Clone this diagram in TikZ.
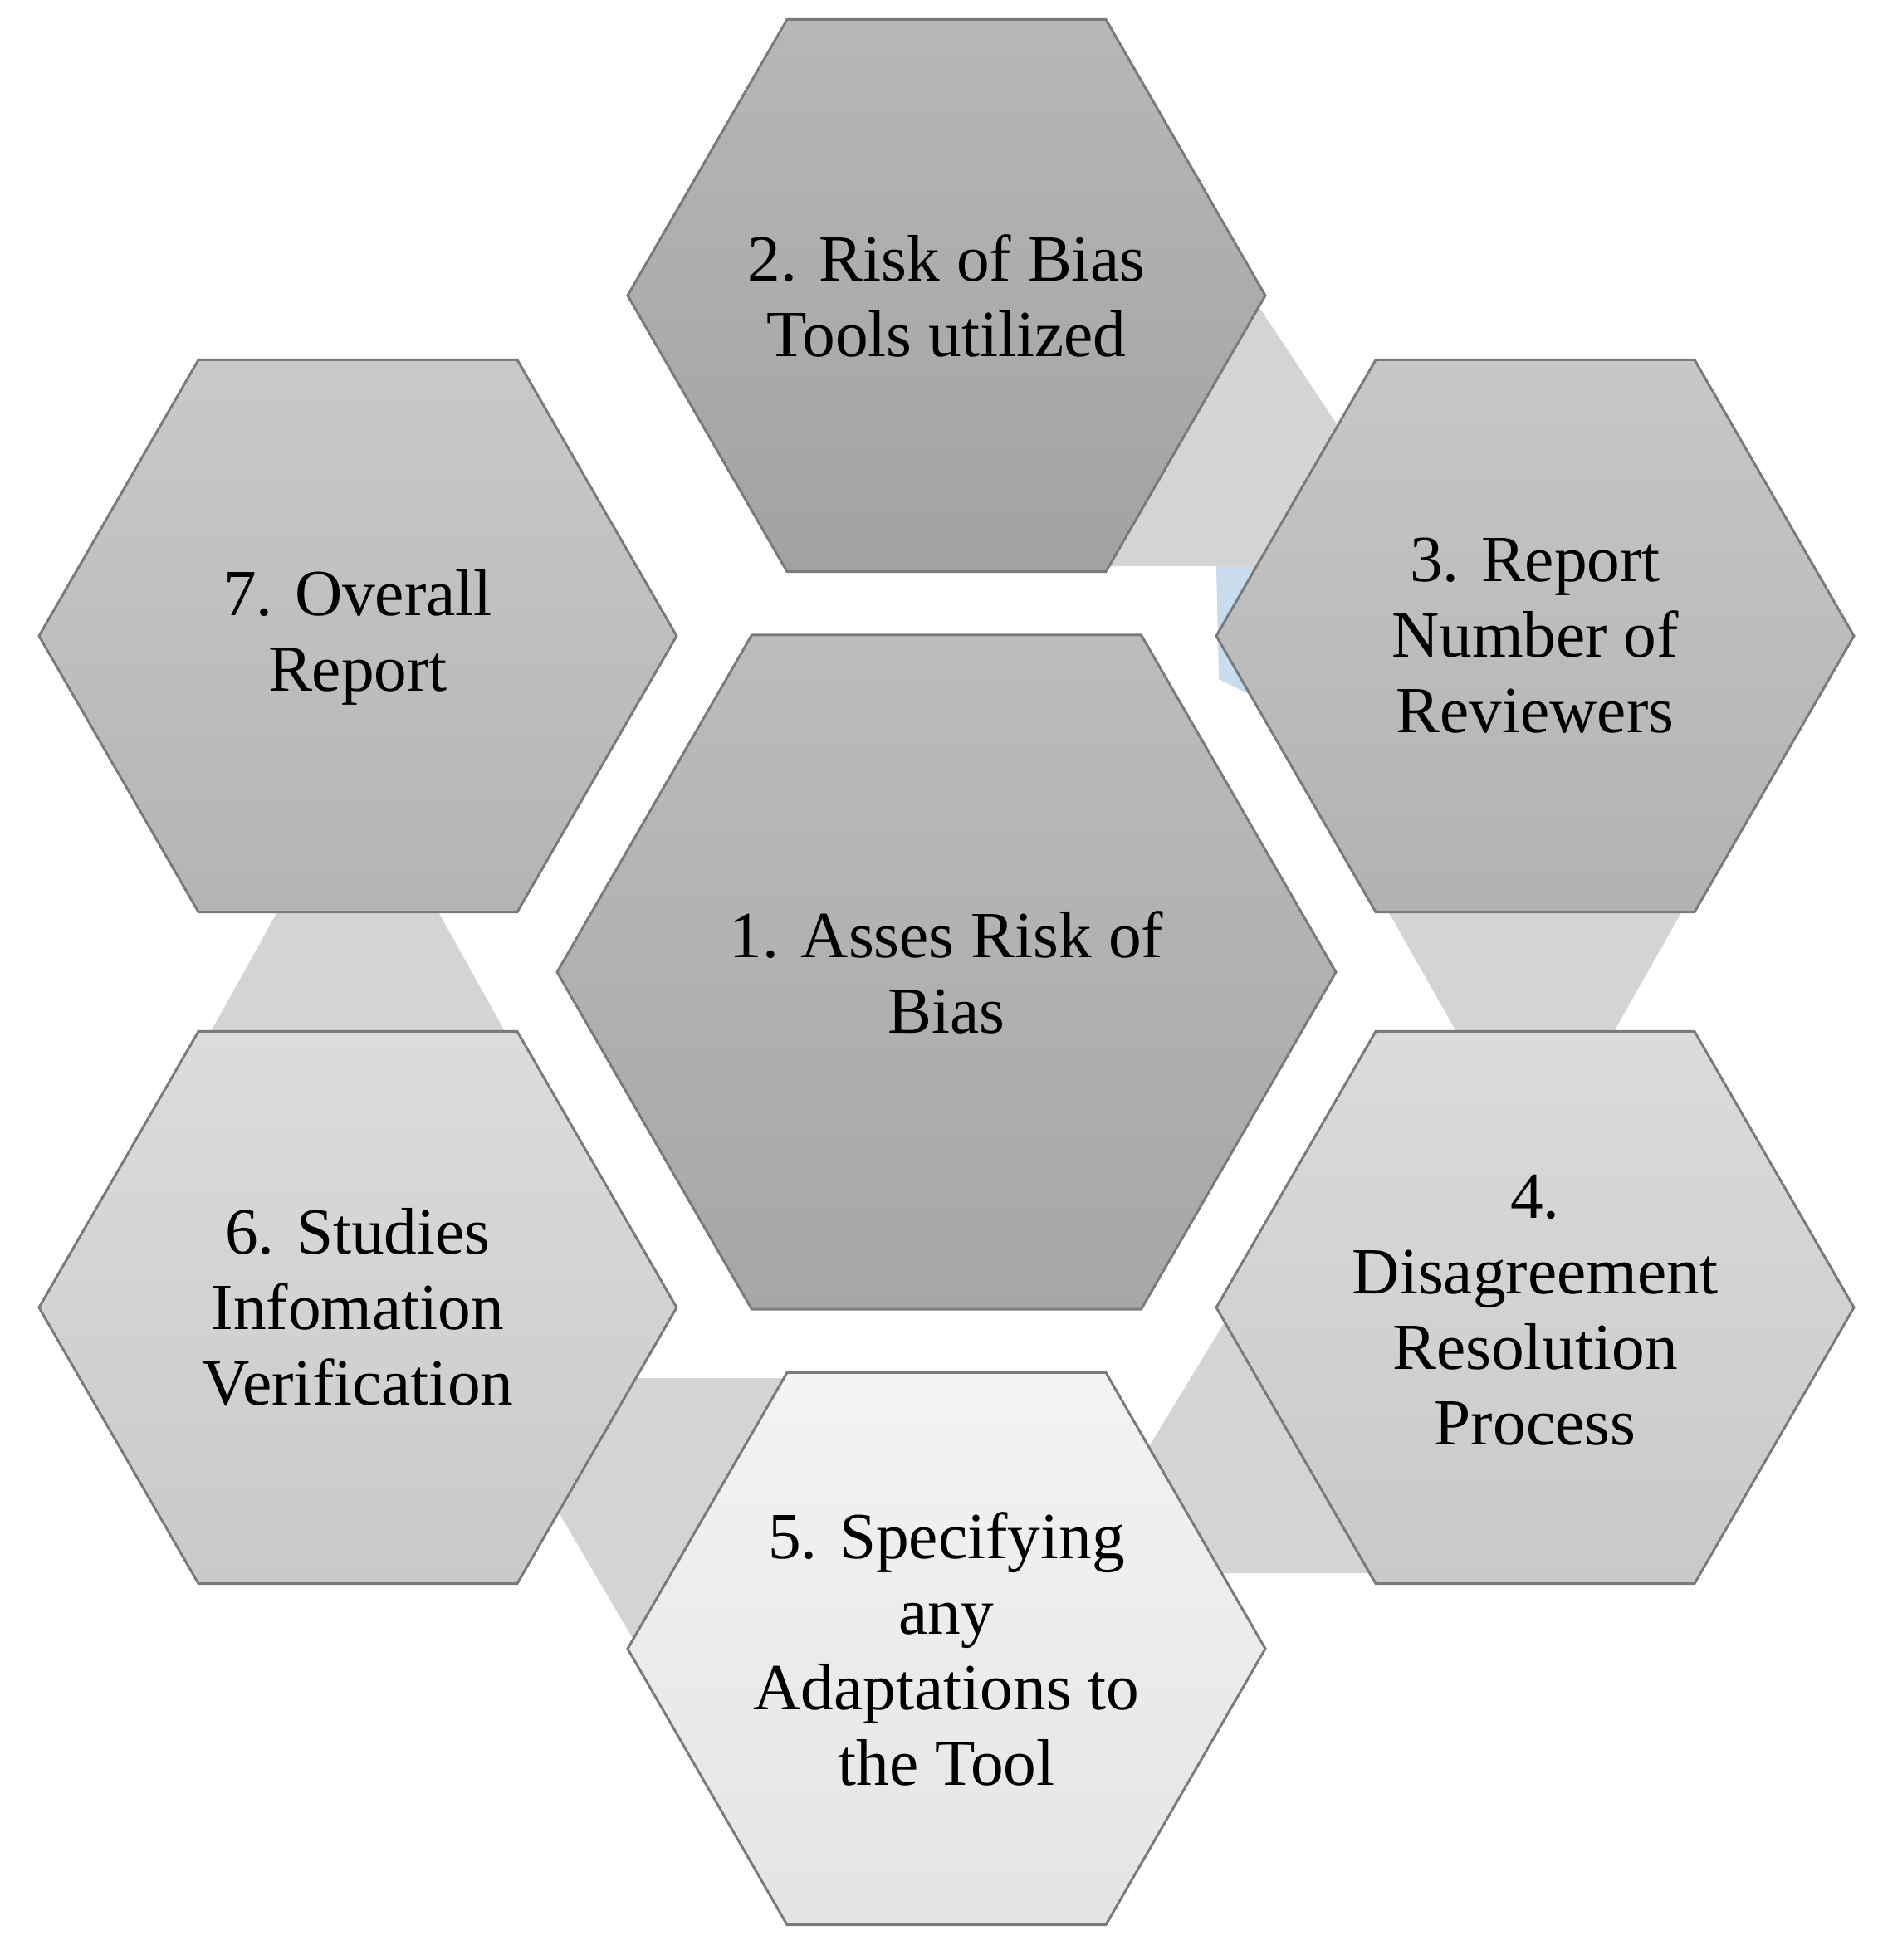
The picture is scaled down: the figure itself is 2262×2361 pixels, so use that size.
\documentclass[tikz,border=0pt]{standalone}
\usepackage{fontspec}
\setmainfont{Liberation Serif}
\definecolor{hexdraw}{RGB}{122,122,122}
\definecolor{bandgray}{RGB}{212,212,212}
\definecolor{bandblue}{RGB}{200,220,237}
\definecolor{hAt}{RGB}{188,188,188}\definecolor{hAb}{RGB}{166,166,166}
\definecolor{hBt}{RGB}{183,183,183}\definecolor{hBb}{RGB}{162,162,162}
\definecolor{hCt}{RGB}{199,199,199}\definecolor{hCb}{RGB}{178,178,178}
\definecolor{hDt}{RGB}{219,219,219}\definecolor{hDb}{RGB}{201,201,201}
\definecolor{hEt}{RGB}{243,243,243}\definecolor{hEb}{RGB}{228,228,228}
\definecolor{hFt}{RGB}{220,220,220}\definecolor{hFb}{RGB}{201,201,201}
\definecolor{hGt}{RGB}{201,201,201}\definecolor{hGb}{RGB}{180,180,180}
\tikzset{
  hexline/.style={draw=hexdraw, line width=0.9pt, line join=miter},
  band/.style={fill=bandgray},
  lbl/.style={align=center, font=\fontsize{23.8}{27.3}\selectfont, inner sep=0pt, text=black},
}
\newcommand{\drawhex}[5]{%
  \path[hexline, top color=#4, bottom color=#5]
    ({#1+#3},{#2}) -- ({#1+0.5*#3},{#2+0.8660254*#3}) -- ({#1-0.5*#3},{#2+0.8660254*#3})
    -- ({#1-#3},{#2}) -- ({#1-0.5*#3},{#2-0.8660254*#3}) -- ({#1+0.5*#3},{#2-0.8660254*#3}) -- cycle;}
\begin{document}
\begin{tikzpicture}[x=0.3pt, y=-0.3pt]
\useasboundingbox[fill=white] (0,0) rectangle (2262,2361);
% light blue fragment
\fill[bandblue] (1465,682) -- (1540,682) -- (1540,854) -- (1468,818) -- cycle;
% connector bands
\fill[band] (1478,312) -- (1648,568) -- (1640,682) -- (1300,682) -- cycle;          % 2-3
\fill[band] (1662,1080) -- (2036,1080) -- (1933,1262) -- (1765,1262) -- cycle;      % 3-4
\fill[band] (1510,1535) -- (1700,1535) -- (1700,1895) -- (1430,1895) -- (1360,1782) -- cycle; % 4-5
\fill[band] (632,1752) -- (700,1660) -- (1000,1660) -- (1000,2000) -- (788,2018) -- cycle;    % 5-6
\fill[band] (346,1077) -- (516,1077) -- (619,1262) -- (243,1262) -- cycle;          % 6-7
% hexagons
\drawhex{1140}{1171}{469}{hAt}{hAb}
\drawhex{1140}{356}{384}{hBt}{hBb}
\drawhex{1849}{766}{384}{hCt}{hCb}
\drawhex{1849}{1575}{384}{hDt}{hDb}
\drawhex{1140}{1986}{384}{hEt}{hEb}
\drawhex{431}{1575}{384}{hFt}{hFb}
\drawhex{431}{766}{384}{hGt}{hGb}
% labels
\node[lbl] (n1) at (1140,1171) {1. Asses Risk of\\Bias};
\node[lbl] (n2) at (1140,356) {2. Risk of Bias\\Tools utilized};
\node[lbl] (n3) at (1849,766) {3. Report\\Number of\\Reviewers};
\node[lbl] (n4) at (1849,1578) {4.\\Disagreement\\Resolution\\Process};
\node[lbl] (n5) at (1140,1986) {5. Specifying\\any\\Adaptations to\\the Tool};
\node[lbl] (n6) at (431,1575) {6. Studies\\Infomation\\Verification};
\node[lbl] (n7) at (431,768) {7. Overall\\Report};
\end{tikzpicture}
\end{document}
